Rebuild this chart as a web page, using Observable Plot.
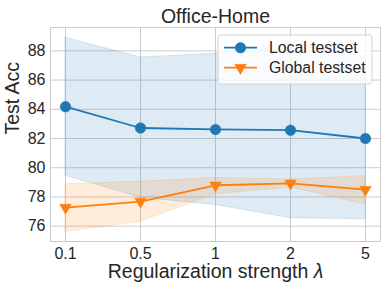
<!DOCTYPE html>
<html><head><meta charset="utf-8">
<script src="https://cdn.jsdelivr.net/npm/d3@7"></script>
<script src="https://cdn.jsdelivr.net/npm/@observablehq/plot@0.6"></script>
<style>body{margin:0;background:#fff;}</style>
</head><body><div id="chart"></div>
<script>
// ---- data ----
const lambdas = ["0.1", "0.5", "1", "2", "5"];
const localMean = [84.18, 82.72, 82.62, 82.57, 82.0];
const localLow  = [79.45, 77.95, 77.45, 76.55, 76.47];
const localHigh = [88.9, 87.55, 87.8, 88.6, 87.55];
const globalMean = [77.27, 77.68, 78.8, 78.93, 78.5];
const globalLow  = [75.6, 76.3, 78.18, 78.64, 77.5];
const globalHigh = [78.87, 79.05, 79.3, 79.2, 79.43];
const yTicks = [76, 78, 80, 82, 84, 86, 88];
const seriesNames = ["Local testset", "Global testset"];
const title = "Office-Home";
const yLabel = "Test Acc";
const xLabelText = "Regularization strength ";
const xLabelSymbol = "λ";

// ---- styling ----
const blue = "#1f77b4", orange = "#ff7f0e";
const font = "'Liberation Sans', Arial, sans-serif";
const ink = "#262626";
const gridColor = "#cccccc";
const W = 387, H = 291, mL = 50, mR = 7, mT = 27, mB = 50;

const localRows = lambdas.map((l, i) => ({l, mean: localMean[i], lo: localLow[i], hi: localHigh[i]}));
const globalRows = lambdas.map((l, i) => ({l, mean: globalMean[i], lo: globalLow[i], hi: globalHigh[i]}));

const chart = Plot.plot({
  width: W, height: H,
  marginLeft: mL, marginRight: mR, marginTop: mT, marginBottom: mB,
  style: {fontFamily: font, fontSize: "16px", color: ink, background: "#fff"},
  x: {type: "point", domain: lambdas, padding: 0.2, label: null, tickSize: 0, tickPadding: 6},
  y: {domain: [74.95, 89.6], ticks: yTicks, label: null, tickSize: 0, tickPadding: 5},
  marks: [
    Plot.gridX(lambdas, {stroke: gridColor, strokeOpacity: 1, strokeWidth: 1}),
    Plot.gridY(yTicks, {stroke: gridColor, strokeOpacity: 1, strokeWidth: 1}),
    Plot.areaY(localRows, {x: "l", y1: "lo", y2: "hi", fill: blue, fillOpacity: 0.15, stroke: blue, strokeOpacity: 0.15}),
    Plot.areaY(globalRows, {x: "l", y1: "lo", y2: "hi", fill: orange, fillOpacity: 0.15, stroke: orange, strokeOpacity: 0.15}),
    Plot.line(localRows, {x: "l", y: "mean", stroke: blue, strokeWidth: 1.8}),
    Plot.dot(localRows, {x: "l", y: "mean", r: 5.3, fill: blue, stroke: blue, strokeWidth: 0.5, symbol: "circle"}),
    Plot.line(globalRows, {x: "l", y: "mean", stroke: orange, strokeWidth: 1.8}),
    Plot.dot(globalRows, {x: "l", y: "mean", r: 4.3, fill: orange, stroke: orange, strokeWidth: 0.5, symbol: "triangle", rotate: 180}),
    Plot.frame({stroke: gridColor, strokeWidth: 1}),
    Plot.text([title], {frameAnchor: "top", lineAnchor: "bottom", dy: -5, fontSize: 19.5, fill: ink}),
    Plot.text([yLabel], {frameAnchor: "left", lineAnchor: "bottom", rotate: -90, dx: -31.5, fontSize: 19.5, fill: ink}),
    Plot.text([xLabelText + xLabelSymbol], {frameAnchor: "bottom", lineAnchor: "bottom", dy: 36.7, fontSize: 19.5, fill: ink})
  ]
});
document.getElementById("chart").appendChild(chart);

const svg = d3.select(chart);
// italic lambda in x label
svg.selectAll("text").filter(function () { return this.textContent === xLabelText + xLabelSymbol; })
  .each(function () {
    const t = d3.select(this);
    t.text(null);
    t.append("tspan").text(xLabelText);
    t.append("tspan").attr("font-style", "italic").text(xLabelSymbol);
  });

// legend (upper right, inside the frame)
const lw = 154, lh = 49;
const lx = W - mR - 8 - lw, ly = mT + 8;
const lg = svg.append("g").attr("font-family", font).attr("font-size", 15.8).attr("fill", ink)
  .attr("text-anchor", "start");
lg.append("rect").attr("x", lx).attr("y", ly).attr("width", lw).attr("height", lh).attr("rx", 3)
  .attr("fill", "#fff").attr("fill-opacity", 0.8).attr("stroke", "#d4d4d4");
const colors = [blue, orange];
seriesNames.forEach((name, i) => {
  const cy = ly + 12.7 + 20 * i;
  lg.append("line").attr("x1", lx + 6).attr("x2", lx + 39).attr("y1", cy).attr("y2", cy)
    .attr("stroke", colors[i]).attr("stroke-width", 1.8);
  const sym = i === 0 ? d3.symbol(d3.symbolCircle, Math.PI * 5.3 * 5.3) : d3.symbol(d3.symbolTriangle, Math.PI * 4.3 * 4.3);
  lg.append("path").attr("d", sym()).attr("fill", colors[i]).attr("stroke", colors[i]).attr("stroke-width", 0.5)
    .attr("transform", `translate(${lx + 22.5},${cy})` + (i === 1 ? " rotate(180)" : ""));
  lg.append("text").attr("x", lx + 51).attr("y", cy).attr("dy", "0.35em").attr("text-anchor", "start").text(name);
});
</script>
</body></html>
